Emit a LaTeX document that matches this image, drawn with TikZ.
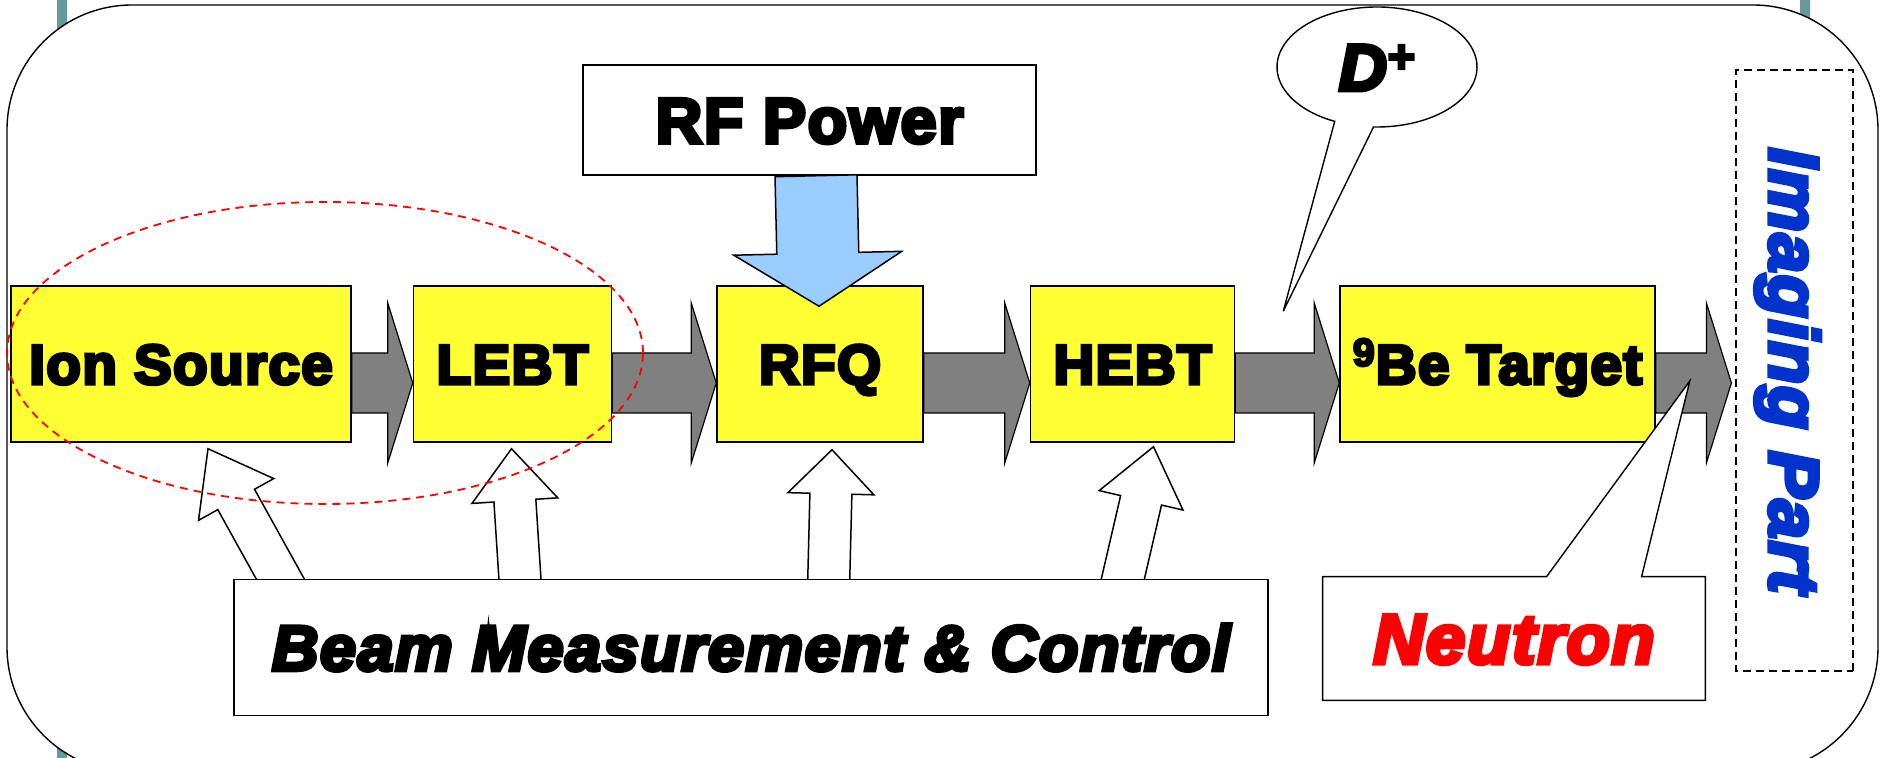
\documentclass[tikz,border=0pt]{standalone}
\usepackage{fontspec}
\newfontfamily\heavyfont{Liberation Sans}[BoldFeatures={FakeBold=6}, BoldItalicFeatures={FakeBold=6}, FakeStretch=1.01, LetterSpace=2.5]
\usetikzlibrary{calc,positioning,shapes.geometric}
\definecolor{unityellow}{RGB}{255,255,51}
\definecolor{beamgray}{RGB}{128,128,128}
\definecolor{rfblue}{RGB}{153,204,255}
\definecolor{frameteal}{RGB}{102,153,153}
\definecolor{imgblue}{RGB}{0,51,204}
\newcommand\unitfont{\heavyfont\bfseries\fontsize{28}{32}\selectfont}
\newcommand\rffont{\heavyfont\bfseries\fontsize{32}{36}\selectfont}
\newcommand\beamfont{\heavyfont\bfseries\itshape\fontsize{32}{36}\selectfont}
\newcommand\neutronfont{\heavyfont\bfseries\itshape\fontsize{35}{40}\selectfont}
\newcommand\dfont{\heavyfont\bfseries\itshape\fontsize{33}{36}\selectfont}
\newcommand\imgfont{\heavyfont\bfseries\itshape\fontsize{35}{40}\selectfont}
\newcommand{\fatarrow}[6]{%
  \coordinate (fa-h) at ($(#3)!#6!(#2)$);
  \draw[#1] ($(#2)!#4!90:(#3)$) -- ($(fa-h)!#4!90:(#3)$) -- ($(fa-h)!#5!90:(#3)$) -- (#3)
    -- ($(fa-h)!#5!-90:(#3)$) -- ($(fa-h)!#4!-90:(#3)$) -- ($(#2)!#4!-90:(#3)$) -- cycle;}
\pgfdeclarelayer{frame}
\pgfdeclarelayer{background}
\pgfdeclarelayer{foreground}
\pgfsetlayers{frame,background,main,foreground}
\begin{document}
\begin{tikzpicture}[x=0.5pt, y=-0.5pt,
  unit/.style={draw, fill=unityellow, line width=0.75pt, inner sep=0pt, minimum height=78pt, text height=20pt, text depth=0pt, font=\unitfont},
  textbox/.style={draw, fill=white, line width=0.75pt, inner sep=0pt},
  beamflow/.style={draw, fill=beamgray, line width=0.6pt},
  rfflow/.style={draw, fill=rfblue, line width=0.75pt},
  measure/.style={draw, fill=white, line width=0.75pt},
  callout/.style={draw, fill=white, line width=0.7pt},
  lowring/.style={draw=red, dash pattern=on 4pt off 3pt, line width=0.9pt, ellipse, inner sep=0pt}]
\useasboundingbox (0,0) rectangle (1881,758);
\clip (0,0) rectangle (1881,758);
\begin{pgfonlayer}{frame}
\fill[frameteal] (57,0) rectangle (67,758) (1800,0) rectangle (1810,758);
\draw[fill=white, line width=0.7pt, rounded corners=62.5pt] (7,5) rectangle (1878,772);
\end{pgfonlayer}
\node[unit, minimum width=170pt] (ion) at (181,364) {Ion Source};
\node[unit, minimum width=99pt, right=30.5pt of ion] (lebt) {LEBT};
\node[unit, minimum width=103pt, right=52pt of lebt] (rfq) {RFQ};
\node[unit, minimum width=102pt, right=53pt of rfq] (hebt) {HEBT};
\node[unit, minimum width=157.5pt, right=52pt of hebt] (target) {\textsuperscript{9}Be Target};
\node[textbox, minimum width=226.5pt, minimum height=55pt, font=\rffont, text height=22.9pt, text depth=0pt] (rf) at (809.5,120) {RF Power};
\node[textbox, minimum width=517pt, minimum height=68pt, font=\beamfont, text height=22.9pt, text depth=0pt] (beam) at (751,647.5) {Beam Measurement \& Control};
\node[draw, dash pattern=on 4pt off 2.5pt, line width=0.6pt, rotate=-90, minimum width=300.5pt, minimum height=58.5pt, inner sep=0pt, text=imgblue, font=\imgfont, text height=25pt, text depth=0pt] (imaging) at (1794.5,370.5) {Imaging Part};
\begin{pgfonlayer}{foreground}
\node[font=\dfont, inner sep=0pt, text height=23.5pt, text depth=0pt] (dplus) at (1377,67) {D\textsuperscript{+}};
\node[font=\neutronfont, text=red, minimum width=191pt, minimum height=61.5pt, inner sep=0pt, text height=25pt, text depth=0pt] (neutron) at (1514,638.5) {Neutron};
\end{pgfonlayer}
\coordinate (dtip) at ($(hebt.north east)+(48,26)$);
\coordinate (ntip) at ($(target.east)+(34,17)$);
\foreach \src/\dst [count=\i] in {ion/lebt, lebt/rfq, rfq/hebt, hebt/target}{
  \coordinate (f\i) at ($(\src.east)+(0,19)$);
  \coordinate (g\i) at ($(\dst.west)+(0,19)$);
  \fatarrow{beamflow}{f\i}{g\i}{15pt}{40pt}{12.5pt}
}
\coordinate (f5) at ($(target.east)+(0,19)$);
\coordinate (g5) at ($(imaging.south |- target.east)+(-4,19)$);
\fatarrow{beamflow}{f5}{g5}{15pt}{40pt}{12.5pt}
\coordinate (rfout) at ($(rf.south)+(6.5,0)$);
\coordinate (rfin) at ($(rfq.north)+(-1,21)$);
\fatarrow{rfflow}{rfout}{rfin}{20.5pt}{42pt}{26.5pt}
\begin{pgfonlayer}{background}
\coordinate (m1) at ($(beam.north west)+(58,20)$);
\coordinate (n1) at ($(ion.south)+(27,6)$);
\coordinate (m2) at ($(beam.north west)+(288,20)$);
\coordinate (n2) at ($(lebt.south)+(-1,6)$);
\coordinate (m3) at ($(beam.north west)+(595,20)$);
\coordinate (n3) at ($(rfq.south)+(12,7)$);
\coordinate (m4) at ($(beam.north west)+(885,20)$);
\coordinate (n4) at ($(hebt.south)+(21,4)$);
\foreach \i/\len in {1/29pt, 2/26pt, 3/22pt, 4/27.5pt}
  \fatarrow{measure}{m\i}{n\i}{10.5pt}{21.5pt}{\len};
\end{pgfonlayer}
\draw[callout] (dplus.center) ++(245:50pt and 30pt) arc[start angle=245, end angle=-92, x radius=50pt, y radius=30pt] -- (dtip) -- cycle;
\draw[callout] (neutron.north west) -- ($(neutron.north west)+(224,0)$) -- (ntip) -- ($(neutron.north west)+(319,0)$) -- (neutron.north east) -- (neutron.south east) -- (neutron.south west) -- cycle;
\node[lowring, minimum width=318pt, minimum height=151pt] (lowregion) at (325,353) {};
\end{tikzpicture}
\end{document}
